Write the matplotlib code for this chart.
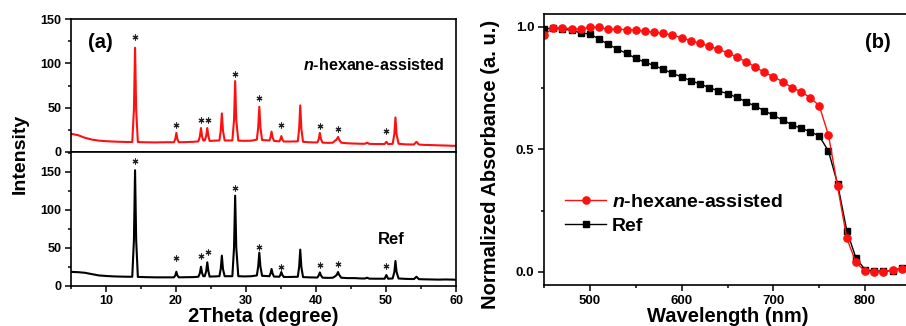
import matplotlib
matplotlib.use("Agg")
import matplotlib.pyplot as plt
from matplotlib.ticker import MultipleLocator

plt.rcParams['font.family'] = ['Liberation Sans', 'DejaVu Sans']
plt.rcParams['font.weight'] = 'bold'
plt.rcParams['mathtext.fontset'] = 'custom'
plt.rcParams['mathtext.it'] = 'Liberation Sans:italic:bold'
plt.rcParams['mathtext.rm'] = 'Liberation Sans:bold'
plt.rcParams['mathtext.bf'] = 'Liberation Sans:bold'

# ---------------- XRD data (panel a) ----------------
two_theta = [5.0, 6.0, 7.0, 8.0, 9.0, 10.0, 11.0, 12.0, 13.0,
             13.75, 13.99, 14.15, 14.31, 14.55,
             15.5, 17.0, 18.5,
             19.7, 19.9, 20.05, 20.2, 20.4,
             21.5, 22.5,
             23.2, 23.41, 23.57, 23.73, 23.9,
             24.1, 24.31, 24.47, 24.63, 24.8,
             25.5,
             26.2, 26.39, 26.55, 26.71, 26.95,
             28.05, 28.29, 28.45, 28.61, 28.9,
             29.8, 30.8,
             31.55, 31.74, 31.9, 32.06, 32.3,
             33.35, 33.5, 33.65, 33.8, 34.0,
             34.75, 34.9, 35.05, 35.2, 35.4,
             36.3,
             37.4, 37.59, 37.75, 37.91, 38.15,
             39.0, 39.8,
             40.2, 40.39, 40.55, 40.71, 40.95,
             41.8,
             42.4, 42.75, 42.95, 43.15, 43.3, 43.6,
             44.5, 45.5, 46.5,
             47.0, 47.3, 47.6,
             48.5, 49.5,
             49.8, 50.05, 50.3,
             50.95, 51.19, 51.35, 51.51, 51.8,
             52.8, 53.6,
             54.0, 54.35, 54.7,
             55.5, 56.5, 57.5, 58.5, 59.5, 60.0]

int_hexane = [20.5, 19.0, 16.0, 14.0, 12.8, 12.2, 11.8, 11.5, 11.3,
              11.3, 48.0, 117.6, 48.0, 11.2,
              11.0, 10.8, 11.0,
              11.0, 14.5, 21.5, 14.5, 11.0,
              11.2, 11.5,
              12.0, 17.5, 27.0, 17.5, 13.0,
              13.0, 18.0, 27.0, 18.0, 12.5,
              12.8,
              13.0, 24.0, 43.5, 24.0, 13.0,
              13.0, 36.0, 80.0, 36.0, 12.8,
              12.6, 12.8,
              14.0, 27.5, 51.0, 27.5, 13.5,
              13.0, 16.5, 23.0, 16.5, 12.5,
              12.0, 14.0, 18.0, 14.0, 11.8,
              11.8,
              12.0, 26.0, 52.5, 26.0, 11.5,
              11.0, 10.8,
              10.8, 14.5, 21.5, 14.5, 10.5,
              10.3,
              10.5, 13.0, 14.0, 17.0, 14.0, 10.5,
              9.8, 9.5, 9.3,
              9.3, 10.5, 9.2,
              9.0, 9.0,
              9.0, 11.5, 9.0,
              9.2, 20.0, 39.0, 20.0, 9.3,
              8.6, 8.5,
              8.5, 11.5, 8.4,
              8.0, 7.8, 7.5, 7.3, 7.0, 7.0]

int_ref = [18.2, 17.8, 17.0, 15.2, 13.5, 12.8, 12.3, 12.0, 11.8,
           11.8, 60.0, 152.0, 60.0, 11.6,
           11.3, 11.0, 11.0,
           11.0, 13.5, 18.4, 13.5, 11.0,
           11.2, 11.3,
           11.8, 16.5, 25.0, 16.5, 12.5,
           12.5, 19.0, 30.8, 19.0, 12.0,
           12.2,
           12.5, 22.0, 39.5, 22.0, 12.5,
           12.5, 50.0, 118.5, 50.0, 12.5,
           12.2, 12.5,
           13.5, 25.0, 43.5, 25.0, 13.0,
           12.5, 16.0, 22.0, 16.0, 12.0,
           11.8, 14.0, 18.0, 14.0, 11.5,
           11.5,
           11.8, 24.5, 47.5, 24.5, 11.3,
           11.0, 10.8,
           10.8, 13.5, 17.5, 13.5, 10.5,
           10.3,
           10.5, 12.5, 14.0, 18.0, 14.5, 10.5,
           10.0, 10.0, 9.5,
           9.5, 10.5, 9.3,
           9.2, 9.2,
           9.2, 14.0, 9.2,
           9.5, 18.0, 32.5, 18.0, 9.5,
           9.0, 8.8,
           8.8, 11.8, 8.6,
           8.4, 8.2, 8.0, 8.2, 8.0, 7.8]

star_pos = [14.15, 20.05, 23.6, 24.5, 28.45, 31.9, 35.05, 40.55, 43.15, 50.05]
star_hexane = [130, 30, 36, 36, 87.5, 61, 30, 29, 26.5, 23.7]
star_ref = [164, 37, 39.5, 44.7, 128, 50.5, 25, 27, 28.5, 26]

# ---------------- Absorbance data (panel b) ----------------
wavelength = [450, 460, 470, 480, 490, 500, 510, 520, 530, 540, 550, 560, 570,
              580, 590, 600, 610, 620, 630, 640, 650, 660, 670, 680, 690, 700,
              710, 720, 730, 740, 750, 760, 770, 780, 790, 800, 810, 820, 830,
              840, 850]
abs_hexane = [0.966, 0.995, 0.995, 0.992, 0.99, 0.998, 0.998, 0.99, 0.99, 0.988,
              0.986, 0.982, 0.977, 0.973, 0.966, 0.955, 0.943, 0.932, 0.921,
              0.908, 0.894, 0.876, 0.858, 0.836, 0.814, 0.796, 0.776, 0.752,
              0.735, 0.711, 0.678, 0.558, 0.348, 0.137, 0.038, 0.002, 0.0, 0.0,
              0.006, 0.013, 0.016]
abs_ref = [0.99, 0.995, 0.99, 0.986, 0.975, 0.97, 0.95, 0.928, 0.909, 0.891,
           0.871, 0.855, 0.842, 0.826, 0.81, 0.795, 0.78, 0.766, 0.752, 0.738,
           0.727, 0.712, 0.694, 0.676, 0.658, 0.638, 0.62, 0.6, 0.586, 0.572,
           0.554, 0.493, 0.359, 0.168, 0.056, 0.008, 0.003, 0.003, 0.005,
           0.015, 0.017]

RED = '#ff1010'
W, H = 906, 326
fig = plt.figure(figsize=(W / 100, H / 100), dpi=100)

def frac(x0, y0, x1, y1):
    return [x0 / W, 1 - y1 / H, (x1 - x0) / W, (y1 - y0) / H]

def ftext(x, y, s, **kw):
    fig.text(x / W, 1 - y / H, s, **kw)

ax_top = fig.add_axes(frac(71, 19, 456, 152))
ax_bot = fig.add_axes(frac(71, 152, 456, 285.7))
ax_b = fig.add_axes(frac(544, 14, 911, 285))

for ax in (ax_top, ax_bot, ax_b):
    for s in ax.spines.values():
        s.set_linewidth(1.2)
    ax.tick_params(which='both', direction='out', width=1.1)
    ax.tick_params(which='major', length=4.5, pad=2.5)
    ax.tick_params(which='minor', length=2.5)

# panel a top
ax_top.plot(two_theta, int_hexane, color=RED, lw=1.5)
ax_top.plot(star_pos, star_hexane, ls='none', marker=(6, 2, 0), ms=4.2,
            color='#222222', mew=0.8)
ax_top.set_xlim(5, 60)
ax_top.set_ylim(0, 150)
ax_top.yaxis.set_major_locator(MultipleLocator(50))
ax_top.yaxis.set_minor_locator(MultipleLocator(25))
ax_top.tick_params(axis='x', which='both', bottom=False, labelbottom=False)
ax_top.tick_params(axis='y', labelsize=9)
ftext(100.5, 43, '(a)', fontsize=14.5, fontweight='bold', va='center', ha='center')
ftext(445, 65, r'$\mathit{n}$-hexane-assisted', fontsize=11.6,
      fontweight='bold', va='center', ha='right')

# panel a bottom
ax_bot.plot(two_theta, int_ref, color='black', lw=1.5)
ax_bot.plot(star_pos, star_ref, ls='none', marker=(6, 2, 0), ms=4.2,
            color='#222222', mew=0.8)
ax_bot.set_xlim(5, 60)
ax_bot.set_ylim(0, 176)
ax_bot.xaxis.set_major_locator(MultipleLocator(10))
ax_bot.xaxis.set_minor_locator(MultipleLocator(5))
ax_bot.yaxis.set_major_locator(MultipleLocator(50))
ax_bot.yaxis.set_minor_locator(MultipleLocator(25))
ax_bot.tick_params(labelsize=9)
ftext(391.5, 239, 'Ref', fontsize=12, fontweight='bold', va='center', ha='center')
ax_bot.set_xlabel('2Theta (degree)', fontsize=14.5, fontweight='bold', labelpad=0)
ftext(20, 154, 'Intensity', rotation=90, fontsize=14, fontweight='bold',
      va='center', ha='center')

# panel b
ax_b.plot(wavelength, abs_ref, color='black', lw=1.0, marker='s', ms=4.3,
          label='Ref')
ax_b.plot(wavelength, abs_hexane, color=RED, lw=1.0, marker='o', ms=5.2,
          label=r'$\mathit{n}$-hexane-assisted')
ax_b.set_xlim(450, 850)
ax_b.set_ylim(-0.054, 1.052)
ax_b.xaxis.set_major_locator(MultipleLocator(100))
ax_b.xaxis.set_minor_locator(MultipleLocator(50))
ax_b.yaxis.set_major_locator(MultipleLocator(0.5))
ax_b.yaxis.set_minor_locator(MultipleLocator(0.25))
ax_b.tick_params(labelsize=9.5)
ax_b.set_xlabel('Wavelength (nm)', fontsize=14.5, fontweight='bold', labelpad=0)
ftext(490, 164, 'Normalized Absorbance (a. u.)', rotation=90,
      fontsize=14.5, fontweight='bold', va='center', ha='center')
ftext(877.5, 42, '(b)', fontsize=14.5, fontweight='bold', va='center', ha='center')
handles, labels = ax_b.get_legend_handles_labels()
ax_b.legend(handles[::-1], labels[::-1], loc='center left',
            bbox_to_anchor=(0.058, 0.262), frameon=False, fontsize=14,
            handlelength=2.1, handletextpad=0.3, labelspacing=0.35,
            borderpad=0, borderaxespad=0)

fig.savefig('out.png', dpi=100)
